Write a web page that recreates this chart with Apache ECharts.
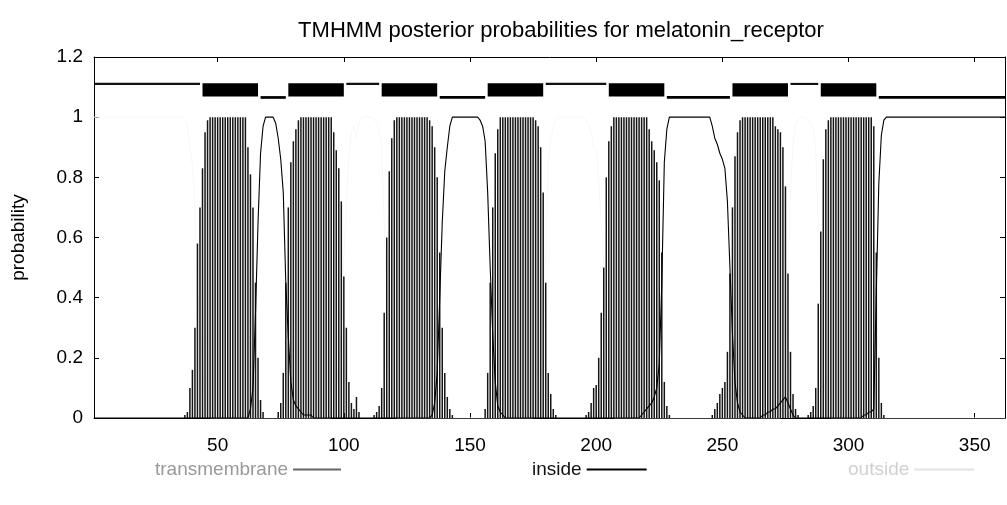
<!DOCTYPE html>
<html>
<head>
<meta charset="utf-8">
<script src="https://cdn.jsdelivr.net/npm/echarts@6/dist/echarts.min.js"></script>
<style>
html,body{margin:0;padding:0;background:#fff;}
#chart{width:1007px;height:505px;}
</style>
</head>
<body>
<div id="chart"></div>
<script>
// ---- data ----
const chartTitle = 'TMHMM posterior probabilities for melatonin_receptor';
const seqLength = 362;
const xTickValues = [50, 100, 150, 200, 250, 300, 350];
const yTickValues = [0, 0.2, 0.4, 0.6, 0.8, 1, 1.2];

// posterior probability of transmembrane, residue 1..362
const tmProb = [
  0,0,0,0,0,0,0,0,0,0, 0,0,0,0,0,0,0,0,0,0, 0,0,0,0,0,0,0,0,0,0, 0,0,0,0,0,0,
  0.01,0.02,0.1,0.16,0.3,0.58,0.7,0.83,0.95,0.99,
  1,1,1,1,1,1,1,1,1,1,1,1,1,1,1,
  0.9,0.81,0.7,0.45,0.2,0.06,0.02,
  0,0,0,0,0,
  0.02,0.05,0.15,0.45,0.7,0.85,0.92,0.96,0.99,
  1,1,1,1,1,1,1,1,1,1,1,1,1,
  0.95,0.89,0.83,0.72,0.47,0.3,0.12,0.05,0.03,0.07,0.02,
  0,0,0,0,0,
  0.01,0.02,0.04,0.1,0.35,0.6,0.82,0.93,0.99,
  1,1,1,1,1,1,1,1,1,1,1,1,1,
  0.99,0.97,0.9,0.8,0.55,0.3,0.15,0.07,0.03,0.01,
  0,0,0,0,0,0,0,0,0,0,0,0,
  0.03,0.15,0.45,0.7,0.88,0.96,
  1,1,1,1,1,1,1,1,1,1,1,1,1,1,
  0.99,0.97,0.9,0.75,0.45,0.15,0.08,0.03,0.01,
  0,0,0,0,0,0,0,0,0,0,0,
  0.01,0.02,0.05,0.1,0.11,0.2,0.35,0.5,0.8,0.92,0.97,
  1,1,1,1,1,1,1,1,1,1,1,1,1,1,
  0.96,0.92,0.89,0.85,0.79,0.55,0.12,0.04,0.01,
  0,0,0,0,0,0,0,0,0,0,0,0,0,0,0,0,
  0.01,0.03,0.05,0.08,0.1,0.12,0.22,0.48,0.7,0.87,0.95,0.99,
  1,1,1,1,1,1,1,1,1,1,1,1,1,
  0.97,0.96,0.95,0.9,0.77,0.48,0.22,0.08,0.03,0.01,
  0,0,0,
  0.01,0.02,0.04,0.1,0.38,0.62,0.86,0.96,0.99,
  1,1,1,1,1,1,1,1,1,1,1,1,1,1,1,1,1,
  0.97,0.55,0.2,0.05,0.01,
  0,0,0,0,0,0,0,0,0,0, 0,0,0,0,0,0,0,0,0,0, 0,0,0,0,0,0,0,0,0,0, 0,0,0,0,0,0,0,0,0,0, 0,0,0,0,0,0,0,0
];

// posterior probability of inside, residue 1..362
const insideProb = [
  0,0,0,0,0,0,0,0,0,0, 0,0,0,0,0,0,0,0,0,0, 0,0,0,0,0,0,0,0,0,0, 0,0,0,0,0,0,0,0,0,0,
  0,0,0,0,0,0,0,0,0,0, 0,0,0,0,0,0,0,0,0,0, 0,0,
  0.03,0.1,0.35,0.65,0.88,0.97,
  1,1,1,1,
  0.98,0.93,0.86,0.75,0.45,0.27,0.12,0.06,0.04,0.03,0.02,0.01,0.01,0.01,0.01,
  0,0,0,0,0,0,0,0,0,0, 0,0,0,0,0,0,0,0,0,0, 0,0,0,0,0,0,0,0,0,0, 0,0,0,0,0,0,0,0,0,0, 0,0,0,0,0,0,0,
  0.01,0.05,0.15,0.4,0.65,0.82,0.9,0.97,
  1,1,1,1,1,1,1,1,1,1,1,
  0.99,0.97,0.92,0.75,0.5,0.28,0.12,0.04,0.02,0.01,
  0,0,0,0,0,0,0,0,0,0, 0,0,0,0,0,0,0,0,0,0, 0,0,0,0,0,0,0,0,0,0, 0,0,0,0,0,0,0,0,0,0, 0,0,0,0,0,0,0,0,0,0, 0,0,0,0,
  0.01,0.02,0.03,0.04,0.05,0.07,0.1,0.18,0.45,0.85,0.96,
  1,1,1,1,1,1,1,1,1,1,1,1,1,1,1,1,1,
  0.97,0.93,0.91,0.88,0.86,0.83,0.72,0.5,0.28,0.12,0.05,0.02,0.01,
  0,0,0,0,0,0,0,
  0.01,0.01,0.02,0.02,0.03,0.03,0.04,0.05,0.06,0.07,0.05,0.03,0.01,
  0,0,0,0,0,0,0,0,0,0, 0,0,0,0,0,0,0,0,0,0, 0,0,0,0,0,0,0,
  0.01,0.01,0.02,0.02,0.03,0.42,0.78,0.94,0.99,
  1,1,1,1,1,1,1,1,1,1, 1,1,1,1,1,1,1,1,1,1, 1,1,1,1,1,1,1,1,1,1, 1,1,1,1,1,1,1,1,1,1, 1,1,1,1,1,1,1,1
];

// posterior probability of outside, residue 1..362
const outsideProb = [
  1,1,1,1,1,1,1,1,1,1, 1,1,1,1,1,1,1,1,1,1, 1,1,1,1,1,1,1,1,1,1, 1,1,1,1,1,1,
  0.99,0.98,0.9,0.84,0.7,0.42,0.3,0.17,0.05,0.01,
  0,0,0,0,0,0,0,0,0,0, 0,0,0,0,0,0,0,0,0,0, 0,0,0,0,0,0,0,0,0,0, 0,0,0,0,0,0,0,0,0,0, 0,0,0,0,0,0,0,0,0,
  0.05,0.11,0.17,0.28,0.53,0.7,0.88,0.95,0.97,0.93,0.98,
  1,1,1,1,1,
  0.99,0.98,0.96,0.9,0.65,0.4,0.18,0.07,0.01,
  0,0,0,0,0,0,0,0,0,0, 0,0,0,0,0,0,0,0,0,0, 0,0,0,0,0,0,0,0,0,0, 0,0,0,0,0,0,0,0,0,0, 0,0,0,0,0,0,0,0,0,0, 0,0,0,0,0,
  0.01,0.03,0.1,0.25,0.55,0.85,0.92,0.97,0.99,
  1,1,1,1,1,1,1,1,1,1,1,
  0.99,0.98,0.95,0.9,0.89,0.8,0.65,0.5,0.2,0.08,0.03,
  0,0,0,0,0,0,0,0,0,0, 0,0,0,0,0,0,0,0,0,0, 0,0,0,0,0,0,0,0,0,0, 0,0,0,0,0,0,0,0,0,0, 0,0,0,0,0,0,0,0,0,0, 0,0,0,0,0,0,0,0,0,0, 0,0,0,0,
  0,0,0,0.04,0.16,0.47,0.75,0.91,0.97,0.99,
  1,1,1,
  0.99,0.98,0.96,0.9,0.62,0.38,0.14,0.04,0.01,
  0,0,0,0,0,0,0,0,0,0, 0,0,0,0,0,0,0,0,0,0, 0,0,0,0,0,0,0,0,0,0, 0,0,0,0,0,0,0,0,0,0,
  0,0,0,0,0,0,0,0,0,0, 0,0,0,0,0,0,0,0,0,0, 0,0,0,0,0,0,0,0,0,0
];

// predicted topology (residue ranges)
const tmSegments = [[44,66],[78,100],[115,137],[157,179],[205,227],[254,276],[289,311]];
const insideSegments = [[67,77],[138,156],[228,253],[312,362]];
const outsideSegments = [[1,43],[101,114],[180,204],[277,288]];

const seriesNames = ['transmembrane', 'inside', 'outside'];

// ---- chart ----
const FONT = "'Liberation Sans', Arial, Helvetica, sans-serif";
const toPoints = arr => arr.map((p, i) => [i + 1, p]);

function bandRenderer(lo, hi, color) {
  return function (params, api) {
    const a = api.coord([api.value(0), hi]);
    const b = api.coord([api.value(1), lo]);
    return {
      type: 'rect',
      shape: { x: a[0], y: a[1], width: b[0] - a[0], height: b[1] - a[1] },
      style: { fill: color }
    };
  };
}

const chart = echarts.init(document.getElementById('chart'), null, { renderer: 'canvas' });

const xCommon = {
  type: 'value', min: 1, max: seqLength, splitNumber: 7,
  splitLine: { show: false },
  axisLine: { show: true, onZero: false, lineStyle: { color: '#000', width: 1 } },
  axisTick: { show: true, inside: true, length: 5, lineStyle: { color: '#000' } }
};
const yCommon = {
  type: 'value', min: 0, max: 1.2, interval: 0.2,
  splitLine: { show: false },
  axisLine: { show: true, onZero: false, lineStyle: { color: '#000', width: 1 } },
  axisTick: { show: true, inside: true, length: 5, lineStyle: { color: '#000' } }
};

chart.setOption({
  animation: false,
  backgroundColor: '#fff',
  title: {
    text: chartTitle,
    left: 556, top: 15, textAlign: 'center',
    textStyle: { fontFamily: FONT, fontSize: 22, fontWeight: 'normal', color: '#000' }
  },
  grid: { left: 94, right: 2, top: 57, bottom: 87, containLabel: false },
  xAxis: [
    Object.assign({}, xCommon, {
      position: 'bottom',
      axisLabel: {
        show: true, margin: 18, color: '#000', fontFamily: FONT, fontSize: 19,
        showMinLabel: false, showMaxLabel: false,
        formatter: v => (xTickValues.indexOf(v) >= 0 ? String(v) : '')
      }
    }),
    Object.assign({}, xCommon, { position: 'top', axisLabel: { show: false } })
  ],
  yAxis: [
    Object.assign({}, yCommon, {
      position: 'left',
      name: 'probability', nameLocation: 'middle', nameGap: 66, nameRotate: 90,
      nameTextStyle: { fontFamily: FONT, fontSize: 19, color: '#000' },
      axisLabel: {
        show: true, margin: 11, color: '#000', fontFamily: FONT, fontSize: 19,
        formatter: v => {
          const t = yTickValues.find(t => Math.abs(t - v) < 1e-9);
          return t === undefined ? '' : String(t);
        }
      }
    }),
    Object.assign({}, yCommon, { position: 'right', axisLabel: { show: false } })
  ],
  legend: [
    {
      left: 150, top: 455, align: 'right', itemWidth: 48, itemHeight: 2, selectedMode: false,
      data: [{ name: seriesNames[0], icon: 'rect', itemStyle: { color: '#666' },
               textStyle: { color: '#999', fontFamily: FONT, fontSize: 19 } }]
    },
    {
      left: 527, top: 455, align: 'right', itemWidth: 60, itemHeight: 2, selectedMode: false,
      data: [{ name: seriesNames[1], icon: 'rect', itemStyle: { color: '#000' },
               textStyle: { color: '#111', fontFamily: FONT, fontSize: 19 } }]
    },
    {
      left: 843, top: 455, align: 'right', itemWidth: 60, itemHeight: 2, selectedMode: false,
      data: [{ name: seriesNames[2], icon: 'rect', itemStyle: { color: '#e2e2e2' },
               textStyle: { color: '#d0d0d0', fontFamily: FONT, fontSize: 19 } }]
    }
  ],
  series: [
    {
      name: seriesNames[2], type: 'line', data: toPoints(outsideProb),
      showSymbol: false, symbol: 'none', lineStyle: { color: '#f7f7f7', width: 1 },
      itemStyle: { color: '#e2e2e2' }, z: 2
    },
    {
      name: seriesNames[0], type: 'bar', data: toPoints(tmProb),
      barWidth: 1.5, itemStyle: { color: '#151515' }, z: 3, large: false
    },
    {
      name: seriesNames[1], type: 'line', data: toPoints(insideProb),
      showSymbol: false, symbol: 'none', lineStyle: { color: '#000', width: 1.1 },
      itemStyle: { color: '#000' }, z: 4
    },
    {
      name: 'topology-outside', type: 'custom', data: outsideSegments,
      encode: { x: [0, 1] }, renderItem: bandRenderer(1.107, 1.114, '#111'), z: 5
    },
    {
      name: 'topology-inside', type: 'custom', data: insideSegments,
      encode: { x: [0, 1] }, renderItem: bandRenderer(1.061, 1.07, '#000'), z: 5
    },
    {
      name: 'topology-tm', type: 'custom', data: tmSegments,
      encode: { x: [0, 1] }, renderItem: bandRenderer(1.069, 1.113, '#000'), z: 6
    }
  ]
});
</script>
</body>
</html>
